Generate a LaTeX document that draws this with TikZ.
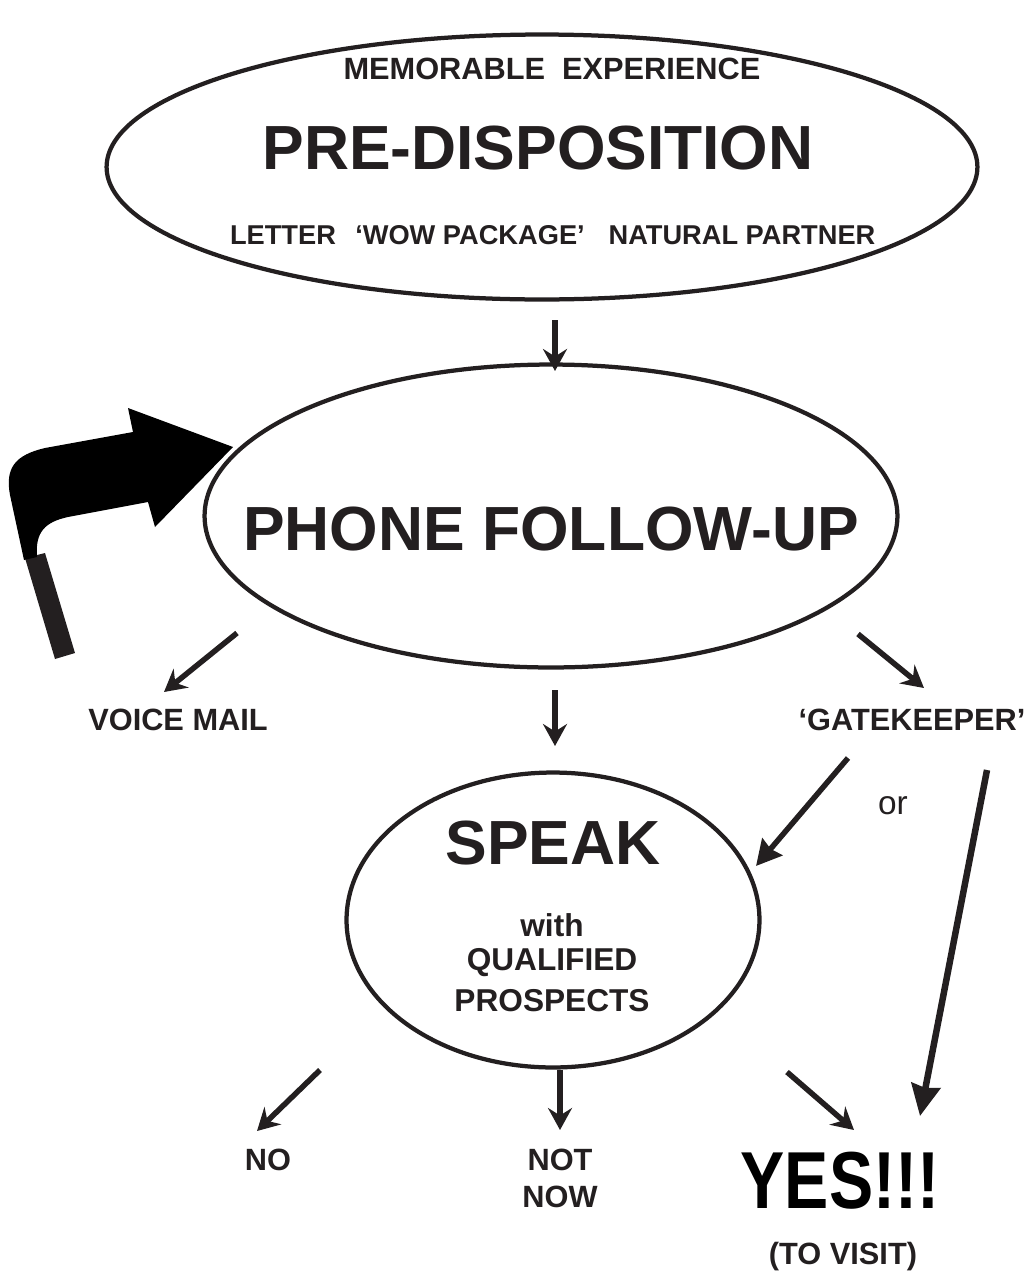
\documentclass[tikz,border=0pt]{standalone}
\usepackage{fontspec}
\setmainfont{Liberation Sans}
\usetikzlibrary{shapes.geometric,arrows.meta}
\definecolor{ink}{HTML}{231F20}
\newcommand{\fsz}[1]{\fontsize{#1}{#1}\selectfont\bfseries}

\begin{document}
\begin{tikzpicture}[x=0.02cm,y=-0.02cm]
\useasboundingbox (0,0) rectangle (1024,1275);
\tikzset{bubble/.style = {shape=ellipse,draw=ink,line width=0.085cm,inner sep=0pt}}
\tikzset{txt/.style = {text=ink,inner sep=0pt}}
% vertices
\node[bubble,minimum width=17.42cm,minimum height=5.3cm] (pre) at (542,167) {};
\node[txt] (memo) at (552,69) {\fsz{17.5}MEMORABLE\ \ EXPERIENCE};
\node[txt] (predisp) at (538,148) {\fsz{35.5}PRE-DISPOSITION};
\node[txt] (letter) at (283,235) {\fsz{15.5}LETTER};
\node[txt] (wow) at (470,235) {\fsz{15.5}‘WOW PACKAGE’};
\node[txt] (natural) at (742,235) {\fsz{15.5}NATURAL PARTNER};

\node[bubble,minimum width=13.86cm,minimum height=6.06cm] (phone) at (551,516) {};
\node[txt] (phonetxt) at (551,529) {\fsz{35.5}PHONE FOLLOW-UP};

\node[txt] (voice) at (178,720) {\fsz{17.5}VOICE MAIL};
\node[txt] (gate) at (912,720) {\fsz{17.5}‘GATEKEEPER’};
\node[txt] (or) at (893,806) {\fontsize{19}{19}\selectfont or};

\node[bubble,minimum width=8.26cm,minimum height=5.9cm] (speak) at (553,920) {};
\node[txt] (speaktxt) at (553,843) {\fsz{35.5}SPEAK};
\node[txt] (with) at (552,925) {\fsz{18}with};
\node[txt] (qual) at (552,963) {\fsz{18}QUALIFIED};
\node[txt] (prosp) at (552,1001) {\fsz{18}PROSPECTS};

\node[txt] (no) at (268,1160) {\fsz{17.5}NO};
\node[txt] (not) at (560,1160) {\fsz{17.5}NOT};
\node[txt] (now) at (560,1197) {\fsz{17.5}NOW};
\node[txt,text=black] (yes) at (840,1181) {\scalebox{0.82}[1]{\fsz{46}YES!!!}};
\node[txt] (visit) at (843,1257) {\fsz{17.5}(TO VISIT)};

% loop-back arrow
\fill[ink] (25,558) -- (45,553) -- (75,653) -- (55,659) -- cycle;
\fill[black] (24,560) -- (10,495) .. controls (5,468) and (15,455) .. (45,448)
  -- (133,432) -- (128,408) -- (233,447) -- (155,527) -- (148,502)
  -- (68,517) .. controls (45,522) and (35,532) .. (37,557) -- cycle;

% arrow ends
\coordinate (a1) at (555,320);  \coordinate (a2) at (555,371);
\coordinate (b1) at (237,633);  \coordinate (b2) at (164,692);
\coordinate (c1) at (858,634);  \coordinate (c2) at (924,688);
\coordinate (d1) at (555,690);  \coordinate (d2) at (555,746);
\coordinate (e1) at (848,758);  \coordinate (e2) at (756,866);
\coordinate (f1) at (987,770);  \coordinate (f2) at (920,1116);
\coordinate (g1) at (320,1070); \coordinate (g2) at (257,1131);
\coordinate (h1) at (560,1070); \coordinate (h2) at (560,1130);
\coordinate (k1) at (787,1072); \coordinate (k2) at (854,1130);

%edges
\tikzset{edge/.style = {ink,line width=0.11cm,-{Stealth[length=0.44cm,width=0.48cm,inset=0.15cm]}}}
\draw[edge] (a1) -- (a2);
\draw[edge] (b1) -- (b2);
\draw[edge] (c1) -- (c2);
\draw[edge] (d1) -- (d2);
\draw[edge] (g1) -- (g2);
\draw[edge] (h1) -- (h2);
\draw[edge] (k1) -- (k2);

\tikzset{edge/.style = {ink,line width=0.11cm,-{Stealth[length=0.5cm,width=0.52cm,inset=0.05cm]}}}
\draw[edge] (e1) -- (e2);
\tikzset{edge/.style = {ink,line width=0.13cm,-{Stealth[length=0.62cm,width=0.58cm,inset=0.05cm]}}}
\draw[edge] (f1) -- (f2);

\end{tikzpicture}
\end{document}
